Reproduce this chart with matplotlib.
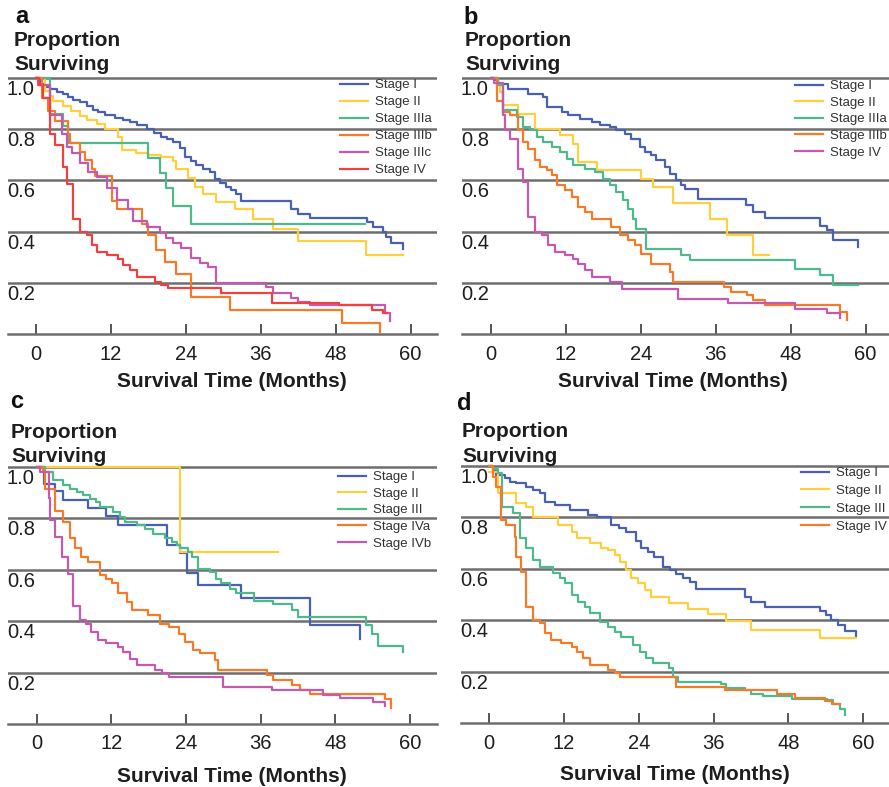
import matplotlib
matplotlib.use('Agg')
import matplotlib.pyplot as plt
from matplotlib import transforms

plt.rcParams['font.family'] = ['Liberation Sans', 'DejaVu Sans']

W, H = 889, 787

# ---------------- data (months, proportion surviving; step 'post') ----------------
X_TICKS = [0, 12, 24, 36, 48, 60]
Y_GRID = [0.2, 0.4, 0.6, 0.8, 1.0]
Y_LABELS = ['0.2', '0.4', '0.6', '0.8', '1.0']
XLABEL = 'Survival Time (Months)'

# Panel a
a_labels = ['Stage I', 'Stage II', 'Stage IIIa', 'Stage IIIb', 'Stage IIIc', 'Stage IV']
a_I_t = [0, 0.6, 1.5, 2.3, 3.4, 4.4, 5.2, 6.0, 7.0, 8.2, 9.2, 10.0, 11.1, 12.7, 14.0, 15.1, 16.1, 17.7, 18.9, 20.0,
         21.0, 22.0, 23.1, 23.9, 24.8, 25.7, 26.8, 27.9, 28.7, 29.5, 30.5, 31.3, 32.1, 32.9, 40.9, 42.0, 43.9, 53.0,
         54.0, 55.6, 56.1, 56.9, 58.8]
a_I_v = [1.0, 0.975, 0.965, 0.955, 0.945, 0.935, 0.925, 0.915, 0.905, 0.89, 0.875, 0.866, 0.855, 0.842, 0.834, 0.826,
         0.817, 0.80, 0.785, 0.77, 0.76, 0.748, 0.725, 0.69, 0.675, 0.66, 0.645, 0.632, 0.607, 0.59, 0.575, 0.562,
         0.548, 0.518, 0.49, 0.47, 0.455, 0.437, 0.418, 0.399, 0.379, 0.357, 0.334]
a_II_t = [0, 1.4, 2.2, 2.8, 4.4, 5.6, 7.0, 8.2, 9.7, 11.1, 13.2, 13.7, 16.0, 18.0, 20.0, 22.0, 22.5, 24.4, 25.5, 26.8,
          28.9, 31.9, 34.8, 38.0, 42.0, 52.8, 58.8]
a_II_v = [1.0, 0.95, 0.93, 0.91, 0.89, 0.87, 0.85, 0.835, 0.82, 0.80, 0.77, 0.72, 0.705, 0.70, 0.69, 0.675, 0.645,
          0.61, 0.575, 0.545, 0.515, 0.487, 0.451, 0.412, 0.362, 0.31, 0.31]
a_IIIa_t = [0, 2.2, 4.4, 5.2, 18.0, 19.9, 20.9, 22.0, 24.9, 52.7]
a_IIIa_v = [1.0, 0.86, 0.81, 0.745, 0.687, 0.63, 0.57, 0.50, 0.43, 0.43]
a_IIIb_t = [0, 0.9, 2.0, 3.0, 5.2, 5.5, 7.0, 7.8, 8.9, 9.5, 12.1, 12.9, 16.9, 18.0, 19.3, 20.7, 22.5, 24.9, 31.1,
            49.0, 55.1]
a_IIIb_v = [1.0, 0.92, 0.87, 0.83, 0.78, 0.745, 0.71, 0.68, 0.645, 0.615, 0.52, 0.49, 0.43, 0.386, 0.327, 0.282,
            0.236, 0.147, 0.095, 0.045, 0.01]
a_IIIc_t = [0, 0.4, 2.2, 4.1, 4.9, 5.7, 7.0, 8.4, 9.7, 11.3, 12.9, 14.8, 15.6, 17.7, 19.9, 20.9, 22.0, 23.3, 24.9,
            26.3, 27.6, 28.9, 36.9, 38.0, 40.9, 42.0, 43.9, 55.9, 56.7]
a_IIIc_v = [1.0, 0.97, 0.855, 0.78, 0.73, 0.705, 0.666, 0.634, 0.614, 0.57, 0.523, 0.49, 0.44, 0.42, 0.393, 0.374,
            0.355, 0.335, 0.296, 0.277, 0.264, 0.201, 0.186, 0.16, 0.14, 0.127, 0.114, 0.082, 0.05]
a_IV_t = [0, 0.5, 1.2, 2.2, 3.0, 4.4, 4.9, 6.0, 7.0, 8.1, 8.9, 9.7, 11.3, 13.2, 14.0, 15.1, 16.1, 19.1, 20.1, 21.2,
          29.7, 37.8, 48.5, 53.8, 55.6, 56.3]
a_IV_v = [1.0, 0.97, 0.92, 0.78, 0.736, 0.652, 0.587, 0.45, 0.40, 0.386, 0.347, 0.321, 0.308, 0.295, 0.271, 0.249,
          0.223, 0.204, 0.191, 0.18, 0.162, 0.121, 0.114, 0.095, 0.082, 0.082]

# Panel b
b_labels = ['Stage I', 'Stage II', 'Stage IIIa', 'Stage IIIb', 'Stage IV']
b_I_t = [0, 0.5, 1.2, 2.8, 6.0, 8.4, 8.9, 11.3, 12.4, 14.3, 16.1, 17.5, 19.1, 20.1, 21.5, 22.5, 23.9, 24.7, 25.7,
         26.5, 27.9, 28.7, 29.7, 30.5, 31.1, 33.2, 40.9, 42.0, 43.9, 52.7, 53.8, 54.8, 58.8]
b_I_v = [1.0, 0.99, 0.977, 0.957, 0.938, 0.925, 0.886, 0.866, 0.853, 0.84, 0.827, 0.814, 0.808, 0.795, 0.782, 0.762,
         0.73, 0.71, 0.697, 0.678, 0.652, 0.626, 0.60, 0.58, 0.568, 0.526, 0.503, 0.477, 0.453, 0.422, 0.405, 0.366,
         0.34]
b_II_t = [0, 1.2, 1.4, 2.0, 4.4, 7.0, 11.1, 13.2, 14.0, 16.9, 24.1, 26.0, 29.2, 35.1, 37.8, 42.0, 44.6]
b_II_v = [1.0, 0.97, 0.944, 0.892, 0.86, 0.80, 0.775, 0.743, 0.671, 0.639, 0.606, 0.574, 0.51, 0.451, 0.386, 0.31,
          0.31]
b_IIIa_t = [0, 1.2, 2.0, 4.1, 5.2, 6.2, 7.3, 8.4, 9.7, 11.1, 12.1, 13.2, 15.1, 16.7, 18.0, 19.1, 20.1, 21.2, 22.0,
            22.8, 23.3, 24.9, 30.5, 31.9, 48.7, 52.7, 54.8, 58.8]
b_IIIa_v = [1.0, 0.97, 0.873, 0.847, 0.808, 0.795, 0.769, 0.749, 0.73, 0.71, 0.684, 0.658, 0.645, 0.632, 0.606, 0.58,
            0.555, 0.522, 0.49, 0.45, 0.412, 0.334, 0.31, 0.288, 0.256, 0.23, 0.191, 0.191]
b_IIIb_t = [0, 0.9, 2.0, 3.0, 4.4, 5.2, 6.0, 7.0, 7.8, 8.9, 9.7, 10.5, 11.9, 12.9, 14.0, 15.1, 16.1, 19.3, 20.7,
            22.0, 23.1, 24.1, 25.7, 28.7, 29.2, 37.3, 38.4, 41.0, 42.0, 43.9, 55.9, 57.0]
b_IIIb_v = [1.0, 0.91, 0.866, 0.853, 0.795, 0.749, 0.723, 0.678, 0.652, 0.639, 0.619, 0.58, 0.561, 0.535, 0.496,
            0.477, 0.45, 0.418, 0.386, 0.366, 0.347, 0.314, 0.275, 0.243, 0.204, 0.184, 0.165, 0.152, 0.132, 0.113,
            0.087, 0.055]
b_IV_t = [0, 0.5, 2.0, 2.2, 3.0, 4.4, 5.2, 6.0, 7.0, 8.1, 9.2, 10.3, 11.9, 13.2, 14.0, 15.1, 16.1, 19.1, 21.0, 30.0,
          38.0, 48.7, 53.8, 55.9]
b_IV_v = [1.0, 0.98, 0.853, 0.795, 0.762, 0.645, 0.594, 0.457, 0.40, 0.386, 0.347, 0.321, 0.308, 0.295, 0.275, 0.249,
          0.223, 0.204, 0.178, 0.139, 0.121, 0.10, 0.084, 0.065]

# Panel c
c_labels = ['Stage I', 'Stage II', 'Stage III', 'Stage IVa', 'Stage IVb']
c_I_t = [0, 1.2, 3.0, 4.2, 8.2, 11.1, 13.1, 21.0, 23.0, 24.1, 26.0, 32.9, 43.9, 51.9]
c_I_v = [1.0, 0.935, 0.905, 0.873, 0.84, 0.81, 0.775, 0.698, 0.664, 0.586, 0.54, 0.49, 0.384, 0.33]
c_II_t = [0, 23.0, 38.8]
c_II_v = [1.0, 0.668, 0.668]
c_III_t = [0, 1.3, 2.7, 4.3, 5.4, 6.4, 7.5, 8.6, 9.6, 10.2, 12.3, 13.4, 14.2, 16.1, 17.4, 18.7, 20.6, 21.7, 22.5, 23.0,
           24.4, 24.9, 26.0, 27.9, 28.9, 29.7, 31.1, 32.1, 35.0, 38.0, 41.0, 42.0, 53.0, 53.9, 54.9, 58.9]
c_III_v = [1.0, 0.98, 0.948, 0.929, 0.916, 0.903, 0.89, 0.877, 0.864, 0.845, 0.825, 0.806, 0.786, 0.773, 0.76, 0.741,
           0.722, 0.709, 0.696, 0.683, 0.67, 0.65, 0.605, 0.592, 0.566, 0.547, 0.527, 0.51, 0.48, 0.465, 0.442, 0.417,
           0.386, 0.352, 0.303, 0.28]
c_IVa_t = [0, 1.0, 1.3, 2.9, 4.3, 5.4, 6.2, 7.2, 8.3, 10.2, 11.2, 12.1, 13.1, 14.5, 15.3, 17.9, 19.8, 21.2, 22.8, 23.8,
           25.2, 26.2, 28.7, 29.2, 37.0, 38.0, 41.0, 42.3, 43.9, 56.0, 57.0]
c_IVa_v = [1.0, 0.985, 0.916, 0.83, 0.786, 0.722, 0.683, 0.65, 0.631, 0.579, 0.566, 0.547, 0.508, 0.475, 0.443, 0.424,
           0.391, 0.378, 0.352, 0.32, 0.288, 0.277, 0.249, 0.21, 0.191, 0.171, 0.152, 0.132, 0.115, 0.096, 0.061]
c_IVb_t = [0, 0.5, 1.9, 2.1, 2.9, 4.0, 5.1, 5.9, 7.0, 8.0, 8.8, 9.9, 11.2, 13.1, 13.9, 15.0, 16.1, 19.0, 20.1, 21.2,
           30.0, 37.8, 46.0, 48.7, 54.1, 56.0]
c_IVb_v = [1.0, 0.98, 0.88, 0.793, 0.728, 0.65, 0.585, 0.459, 0.404, 0.391, 0.359, 0.326, 0.316, 0.30, 0.281, 0.251,
           0.229, 0.21, 0.197, 0.184, 0.145, 0.132, 0.113, 0.10, 0.087, 0.07]

# Panel d
d_labels = ['Stage I', 'Stage II', 'Stage III', 'Stage IV']
d_I_t = [0, 0.6, 1.1, 2.5, 3.3, 4.3, 5.9, 7.0, 8.1, 8.9, 10.5, 12.9, 15.8, 17.2, 19.6, 20.8, 22.0, 23.5, 24.4, 25.5,
         26.5, 27.9, 29.0, 30.0, 31.1, 32.2, 33.2, 41.0, 42.0, 44.2, 53.0, 54.0, 54.9, 55.9, 57.0, 58.9]
d_I_v = [1.0, 0.985, 0.965, 0.952, 0.939, 0.933, 0.92, 0.907, 0.894, 0.861, 0.848, 0.829, 0.809, 0.803, 0.77, 0.757,
         0.744, 0.71, 0.68, 0.665, 0.647, 0.608, 0.595, 0.58, 0.563, 0.55, 0.52, 0.492, 0.472, 0.452, 0.436, 0.42,
         0.401, 0.381, 0.359, 0.339]
d_II_t = [0, 1.4, 4.3, 5.9, 7.0, 11.0, 13.2, 14.0, 16.1, 18.0, 19.0, 20.1, 20.9, 22.0, 22.8, 23.9, 24.9, 26.0, 28.9,
          31.9, 35.1, 38.0, 42.0, 53.0, 58.9]
d_II_v = [0.975, 0.894, 0.855, 0.842, 0.80, 0.77, 0.744, 0.719, 0.699, 0.683, 0.673, 0.654, 0.628, 0.595, 0.563, 0.543,
          0.518, 0.492, 0.468, 0.445, 0.423, 0.397, 0.361, 0.332, 0.332]
d_III_t = [0, 0.6, 1.4, 2.1, 3.8, 4.9, 5.9, 7.0, 8.1, 10.2, 11.3, 12.1, 13.2, 14.2, 15.3, 16.1, 17.7, 19.0, 20.1, 21.2,
           23.1, 24.1, 25.2, 26.3, 28.9, 29.5, 30.3, 37.2, 38.0, 41.0, 42.0, 43.9, 48.6, 54.1, 55.2, 56.2, 57.0]
d_III_v = [1.0, 0.99, 0.971, 0.842, 0.816, 0.719, 0.68, 0.634, 0.608, 0.582, 0.563, 0.543, 0.498, 0.472, 0.453, 0.427,
           0.394, 0.375, 0.355, 0.336, 0.304, 0.278, 0.252, 0.232, 0.213, 0.18, 0.161, 0.152, 0.137, 0.128, 0.115,
           0.104, 0.095, 0.089, 0.075, 0.056, 0.03]
d_IV_t = [0, 0.6, 1.1, 1.9, 2.7, 4.1, 4.3, 5.1, 5.9, 7.0, 8.1, 8.9, 9.9, 11.5, 13.2, 14.0, 15.0, 16.1, 19.0, 20.1,
          20.9, 30.0, 37.8, 46.1, 49.0, 53.9, 55.0, 56.3]
d_IV_v = [1.0, 0.958, 0.92, 0.79, 0.77, 0.725, 0.647, 0.589, 0.453, 0.40, 0.388, 0.349, 0.323, 0.313, 0.297, 0.275,
          0.252, 0.226, 0.206, 0.193, 0.18, 0.141, 0.128, 0.115, 0.099, 0.085, 0.073, 0.073]

# ---------------- styling ----------------
BLUE = '#4a61b2'
YELLOW = '#fecf3f'
GREEN = '#50b98b'
ORANGE = '#f47b2c'
MAGENTA = '#c45aae'
RED = '#ee4242'
GRID = '#6e6e6e'
TXT = '#1e1e1e'

panels = [
    dict(letter='a', labels=a_labels,
         series=[(a_I_t, a_I_v, BLUE), (a_II_t, a_II_v, YELLOW), (a_IIIa_t, a_IIIa_v, GREEN),
                 (a_IIIb_t, a_IIIb_v, ORANGE), (a_IIIc_t, a_IIIc_v, MAGENTA), (a_IV_t, a_IV_v, RED)],
         left=8, right=437, x0=36.0, ppm=6.243, y1=77.7, y0=334.3,
         letter_xy=(15, 23), prop_xy=(14, 45.5), surv_xy=(14, 70), xl_xy=(232, 387),
         leg_xy=(340, 79), leg_sp=0.36),
    dict(letter='b', labels=b_labels,
         series=[(b_I_t, b_I_v, BLUE), (b_II_t, b_II_v, YELLOW), (b_IIIa_t, b_IIIa_v, GREEN),
                 (b_IIIb_t, b_IIIb_v, ORANGE), (b_IV_t, b_IV_v, MAGENTA)],
         left=462, right=889, x0=491.0, ppm=6.243, y1=77.7, y0=334.3,
         letter_xy=(463, 24), prop_xy=(465, 45.5), surv_xy=(465, 70), xl_xy=(672.5, 387),
         leg_xy=(795, 80), leg_sp=0.33),
    dict(letter='c', labels=c_labels,
         series=[(c_I_t, c_I_v, BLUE), (c_II_t, c_II_v, YELLOW), (c_III_t, c_III_v, GREEN),
                 (c_IVa_t, c_IVa_v, ORANGE), (c_IVb_t, c_IVb_v, MAGENTA)],
         left=8, right=437, x0=36.7, ppm=6.22, y1=467.0, y0=724.0,
         letter_xy=(10, 408), prop_xy=(11, 438), surv_xy=(11, 462.5), xl_xy=(232, 781.5),
         leg_xy=(338, 471), leg_sp=0.33),
    dict(letter='d', labels=d_labels,
         series=[(d_I_t, d_I_v, BLUE), (d_II_t, d_II_v, YELLOW), (d_III_t, d_III_v, GREEN),
                 (d_IV_t, d_IV_v, ORANGE)],
         left=461, right=889, x0=489.3, ppm=6.233, y1=466.0, y0=723.1,
         letter_xy=(457, 410), prop_xy=(462, 437.3), surv_xy=(462, 461.7), xl_xy=(675, 780),
         leg_xy=(801, 467), leg_sp=0.42),
]

fig = plt.figure(figsize=(W / 100, H / 100), dpi=100)


def fx(px):
    return px / W


def fy(py):
    return 1 - py / H


for p in panels:
    left, right = p['left'], p['right']
    top_px = p['y1'] - 4
    bot_px = p['y0'] + 4
    ax = fig.add_axes([fx(left), fy(bot_px), (right - left) / W, (bot_px - top_px) / H])
    ppm, x0 = p['ppm'], p['x0']
    ax.set_xlim((left - x0) / ppm, (right - x0) / ppm)
    ppv = p['y0'] - p['y1']
    ax.set_ylim((p['y0'] - bot_px) / ppv, (p['y0'] - top_px) / ppv)

    handles = []
    for (t, v, c), lab in zip(p['series'], p['labels']):
        ln, = ax.step(t, v, where='post', color=c, lw=1.6, label=lab, zorder=3)
        handles.append(ln)

    # horizontal reference lines
    ax.set_yticks(Y_GRID)
    ax.yaxis.grid(True, color=GRID, lw=1.8)
    ax.set_axisbelow(True)
    ax.tick_params(axis='y', left=False, labelleft=False)
    for s in ('top', 'right', 'left'):
        ax.spines[s].set_visible(False)
    ax.spines['bottom'].set_position(('data', 0))
    ax.spines['bottom'].set_color(GRID)
    ax.spines['bottom'].set_linewidth(1.8)

    ax.set_xticks(X_TICKS)
    ax.set_xticklabels([str(x) for x in X_TICKS])
    ax.tick_params(axis='x', direction='in', length=7, width=1.4, color='#555555',
                   labelcolor=TXT, labelsize=14.5, pad=7.5)

    trans = transforms.blended_transform_factory(ax.transAxes, ax.transData) + \
        transforms.ScaledTranslation(-1 / 100, -2 / 100, fig.dpi_scale_trans)
    for yv, yl in zip(Y_GRID, Y_LABELS):
        ax.text(0, yv, yl, transform=trans, ha='left', va='top', fontsize=14.5, color=TXT)

    leg = ax.legend(handles=handles, labels=p['labels'], loc='upper left',
                    bbox_to_anchor=(fx(p['leg_xy'][0]), fy(p['leg_xy'][1])),
                    bbox_transform=fig.transFigure, frameon=False, fontsize=9.5,
                    handlelength=2.1, handletextpad=0.55, labelspacing=p['leg_sp'],
                    borderpad=0, borderaxespad=0)
    for txt in leg.get_texts():
        txt.set_color('#333333')

    fig.text(fx(p['letter_xy'][0]), fy(p['letter_xy'][1]), p['letter'], fontsize=17,
             fontweight='bold', ha='left', va='baseline', color='#111111')
    fig.text(fx(p['prop_xy'][0]), fy(p['prop_xy'][1]), 'Proportion', fontsize=15,
             fontweight='bold', ha='left', va='baseline', color=TXT)
    fig.text(fx(p['surv_xy'][0]), fy(p['surv_xy'][1]), 'Surviving', fontsize=15,
             fontweight='bold', ha='left', va='baseline', color=TXT)
    fig.text(fx(p['xl_xy'][0]), fy(p['xl_xy'][1]), XLABEL, fontsize=15,
             fontweight='bold', ha='center', va='baseline', color=TXT)

fig.savefig('out.png', dpi=100)
